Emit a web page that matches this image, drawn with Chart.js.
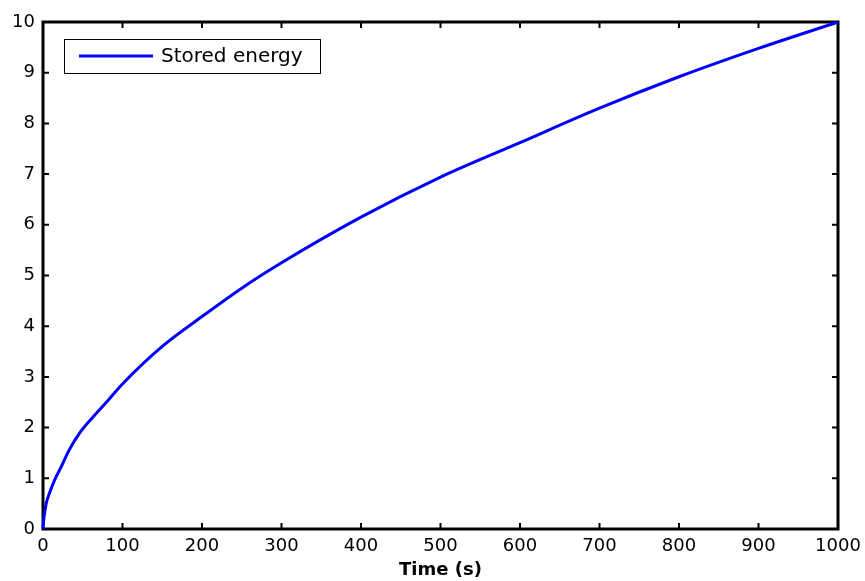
<!DOCTYPE html>
<html>
<head>
<meta charset="utf-8">
<script src="https://cdn.jsdelivr.net/npm/chart.js@4.4.1/dist/chart.umd.min.js"></script>
<style>
  html, body { margin: 0; padding: 0; background: #fff; }
</style>
</head>
<body>
<canvas id="chart_stored_energy" width="865" height="581"></canvas>
<script>
// data
const seriesLabel = "Stored energy";
const timeValues = [0, 1, 2, 4, 8, 15, 23, 33, 46, 63, 82, 100, 150, 200, 250, 300, 400, 500, 600, 700, 800, 900, 1000];
const storedEnergy = [0, 0.2, 0.31, 0.5, 0.70, 0.98, 1.23, 1.56, 1.89, 2.21, 2.54, 2.86, 3.6, 4.19, 4.75, 5.25, 6.15, 6.94, 7.62, 8.30, 8.92, 9.48, 10];
const xTickValues = [0, 100, 200, 300, 400, 500, 600, 700, 800, 900, 1000];
const yTickValues = [0, 1, 2, 3, 4, 5, 6, 7, 8, 9, 10];
const xAxisTitle = "Time (s)";

const fontFamily = "'DejaVu Sans', sans-serif";

// box around plot + inward ticks on all four sides
const frameTicksPlugin = {
  id: 'frameTicks',
  beforeDatasetsDraw(chart) {
    const ctx = chart.ctx;
    const area = chart.chartArea;
    const xs = chart.scales.x;
    const ys = chart.scales.y;
    const len = 6;

    ctx.save();
    ctx.strokeStyle = '#000';
    ctx.lineWidth = 2;
    ctx.beginPath();
    xs.ticks.forEach(t => {
      const px = xs.getPixelForValue(t.value);
      ctx.moveTo(px, area.bottom);
      ctx.lineTo(px, area.bottom - len);
      ctx.moveTo(px, area.top);
      ctx.lineTo(px, area.top + len);
    });
    ys.ticks.forEach(t => {
      const py = ys.getPixelForValue(t.value);
      ctx.moveTo(area.left, py);
      ctx.lineTo(area.left + len, py);
      ctx.moveTo(area.right, py);
      ctx.lineTo(area.right - len, py);
    });
    ctx.stroke();

    ctx.lineWidth = 3;
    ctx.strokeRect(area.left, area.top, area.right - area.left, area.bottom - area.top);
    ctx.restore();
  }
};

// matlab style legend box in upper left
const boxLegendPlugin = {
  id: 'boxLegend',
  afterDatasetsDraw(chart) {
    const ctx = chart.ctx;
    const area = chart.chartArea;
    const ds = chart.data.datasets[0];
    const bx = area.left + 21;
    const by = area.top + 17;
    const bw = 256;
    const bh = 34;

    ctx.save();
    ctx.fillStyle = '#fff';
    ctx.fillRect(bx, by, bw, bh);
    ctx.strokeStyle = '#000';
    ctx.lineWidth = 1;
    ctx.strokeRect(bx + 0.5, by + 0.5, bw, bh);

    ctx.strokeStyle = ds.borderColor;
    ctx.lineWidth = 3;
    ctx.beginPath();
    ctx.moveTo(bx + 15, by + bh / 2);
    ctx.lineTo(bx + 89, by + bh / 2);
    ctx.stroke();

    ctx.fillStyle = '#000';
    ctx.font = "20px " + fontFamily;
    ctx.textBaseline = 'middle';
    ctx.textAlign = 'left';
    ctx.fillText(ds.label, bx + 97, by + bh / 2 + 1);
    ctx.restore();
  }
};

new Chart(document.getElementById("chart_stored_energy"), {
  type: 'line',
  data: {
    labels: timeValues,
    datasets: [{
      label: seriesLabel,
      data: timeValues.map((t, i) => ({ x: t, y: storedEnergy[i] })),
      borderColor: '#0000ff',
      backgroundColor: '#0000ff',
      borderWidth: 3,
      pointRadius: 0,
      fill: false,
      clip: false,
      cubicInterpolationMode: 'monotone'
    }]
  },
  options: {
    responsive: false,
    animation: false,
    layout: { padding: { top: 22, right: 27, left: 0, bottom: 0 } },
    plugins: {
      legend: { display: false },
      tooltip: { enabled: false }
    },
    scales: {
      x: {
        type: 'linear',
        min: 0,
        max: 1000,
        afterBuildTicks: scale => { scale.ticks = xTickValues.map(v => ({ value: v })); },
        afterFit: scale => {
          scale.height = 52;
          scale.paddingLeft = 0;
          scale.paddingRight = 0;
        },
        grid: { display: false, drawTicks: false },
        border: { display: false },
        ticks: {
          color: '#000',
          padding: 7,
          maxRotation: 0,
          autoSkip: false,
          callback: v => String(v),
          font: { family: fontFamily, size: 18 }
        },
        title: {
          display: true,
          text: xAxisTitle,
          color: '#000',
          padding: { top: 0, bottom: 0 },
          font: { family: fontFamily, size: 18, weight: 'bold' }
        }
      },
      y: {
        type: 'linear',
        min: 0,
        max: 10,
        afterBuildTicks: scale => { scale.ticks = yTickValues.map(v => ({ value: v })); },
        afterFit: scale => { scale.width = 43; },
        grid: { display: false, drawTicks: false },
        border: { display: false },
        ticks: {
          color: '#000',
          padding: 8,
          autoSkip: false,
          callback: v => String(v),
          font: { family: fontFamily, size: 18 }
        }
      }
    }
  },
  plugins: [frameTicksPlugin, boxLegendPlugin]
});
</script>
</body>
</html>
